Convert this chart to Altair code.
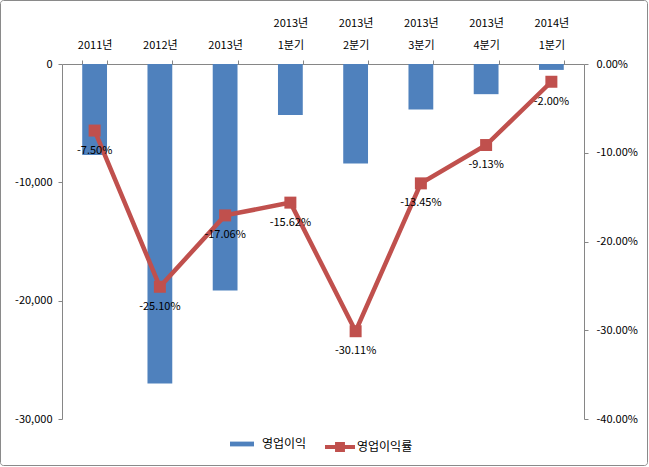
import altair as alt
import pandas as pd

FONT = "Noto Sans CJK KR"

categories = ["2011년", "2012년", "2013년", "2013년 1분기", "2013년 2분기",
              "2013년 3분기", "2013년 4분기", "2014년 1분기"]
op_income = [-7700, -27000, -19150, -4300, -8400, -3850, -2550, -500]
op_margin = [-0.0750, -0.2510, -0.1706, -0.1562, -0.3011, -0.1345, -0.0913, -0.0200]
series = ["영업이익", "영업이익률"]

df = pd.DataFrame({
    "cat": categories,
    "income": op_income,
    "margin": op_margin,
    "s1": series[0],
    "s2": series[1],
})

BLUE = "#4F81BD"
RED = "#C0504D"
GRAY = "#868686"
FIX_MINUS = "replace(datum.label, '\u2212', '-')"

base = alt.Chart(df)

x_main = alt.X(
    "cat:N", sort=categories,
    scale=alt.Scale(paddingInner=0.62, paddingOuter=0.31),
    axis=alt.Axis(orient="top", title=None, labelAngle=0,
                  labelExpr="indexof(datum.label, ' ') >= 0 ? split(datum.label, ' ') : ['', datum.label]",
                  tickBand="extent", tickSize=4, labelPadding=32,
                  labelLineHeight=22, labelFontSize=11),
)
x_plain = alt.X("cat:N", sort=categories)

bars = base.mark_bar().encode(
    x=x_main,
    y=alt.Y("income:Q",
            scale=alt.Scale(domain=[-30000, 0], nice=False),
            axis=alt.Axis(orient="left", title=None,
                          values=[0, -10000, -20000, -30000],
                          format=",.0f", tickSize=4, labelPadding=6,
                          labelExpr=FIX_MINUS)),
    fill=alt.Fill("s1:N",
                  scale=alt.Scale(domain=[series[0]], range=[BLUE]),
                  legend=alt.Legend(title=None, orient="none",
                                    legendX=168, legendY=368,
                                    symbolType="M-1,-0.2H1V0.2H-1Z",
                                    symbolSize=576, symbolStrokeWidth=0,
                                    labelFontSize=12, labelOffset=8)),
)

y_right = alt.Y("margin:Q",
                scale=alt.Scale(domain=[-0.4, 0], nice=False),
                axis=alt.Axis(orient="right", title=None,
                              values=[0, -0.1, -0.2, -0.3, -0.4],
                              format=".2%", tickSize=4, labelPadding=8,
                              labelExpr=FIX_MINUS))
y_plain = alt.Y("margin:Q")

line = base.mark_line(color=RED, strokeWidth=4.5).encode(
    x=x_plain, y=y_right)

points = base.mark_point(shape="square", filled=True, size=144, opacity=1).encode(
    x=x_plain, y=y_plain,
    fill=alt.Fill("s2:N",
                  scale=alt.Scale(domain=[series[1]], range=[RED]),
                  legend=alt.Legend(title=None, orient="none",
                                    legendX=263, legendY=368,
                                    symbolType="M-1,-0.13H1V0.13H-1Z M-0.33,-0.33H0.33V0.33H-0.33Z",
                                    symbolSize=900, symbolStrokeWidth=0,
                                    labelFontSize=12, labelOffset=2)),
)

labels = base.transform_calculate(
    lbl="replace(format(datum.margin, '.2%'), '\u2212', '-')"
).mark_text(dy=20, fontSize=11, color="black", font=FONT).encode(
    x=x_plain, y=y_plain,
    text="lbl:N",
)

right_layer = alt.layer(line, points, labels)

frame = alt.Chart(pd.DataFrame({"a": [0]})).mark_rect(
    fill="transparent", stroke="#8a8a8a", strokeWidth=1, cornerRadius=3
).encode(
    x=alt.value(-61.5), x2=alt.value(585.5),
    y=alt.value(-63.5), y2=alt.value(401.5),
)

chart = alt.layer(bars, right_layer, frame).resolve_scale(
    y="independent", fill="independent"
).properties(
    width=522, height=355, autosize="none",
    padding={"left": 62, "top": 64, "right": 65, "bottom": 48},
).configure_view(stroke="transparent").configure_axis(
    labelFont=FONT, labelFontSize=11, labelColor="black",
    domainColor=GRAY, tickColor=GRAY, grid=False,
).configure_legend(labelFont=FONT, labelColor="black")

chart.save("out.html", embed_options={"renderer": "svg", "actions": False})
